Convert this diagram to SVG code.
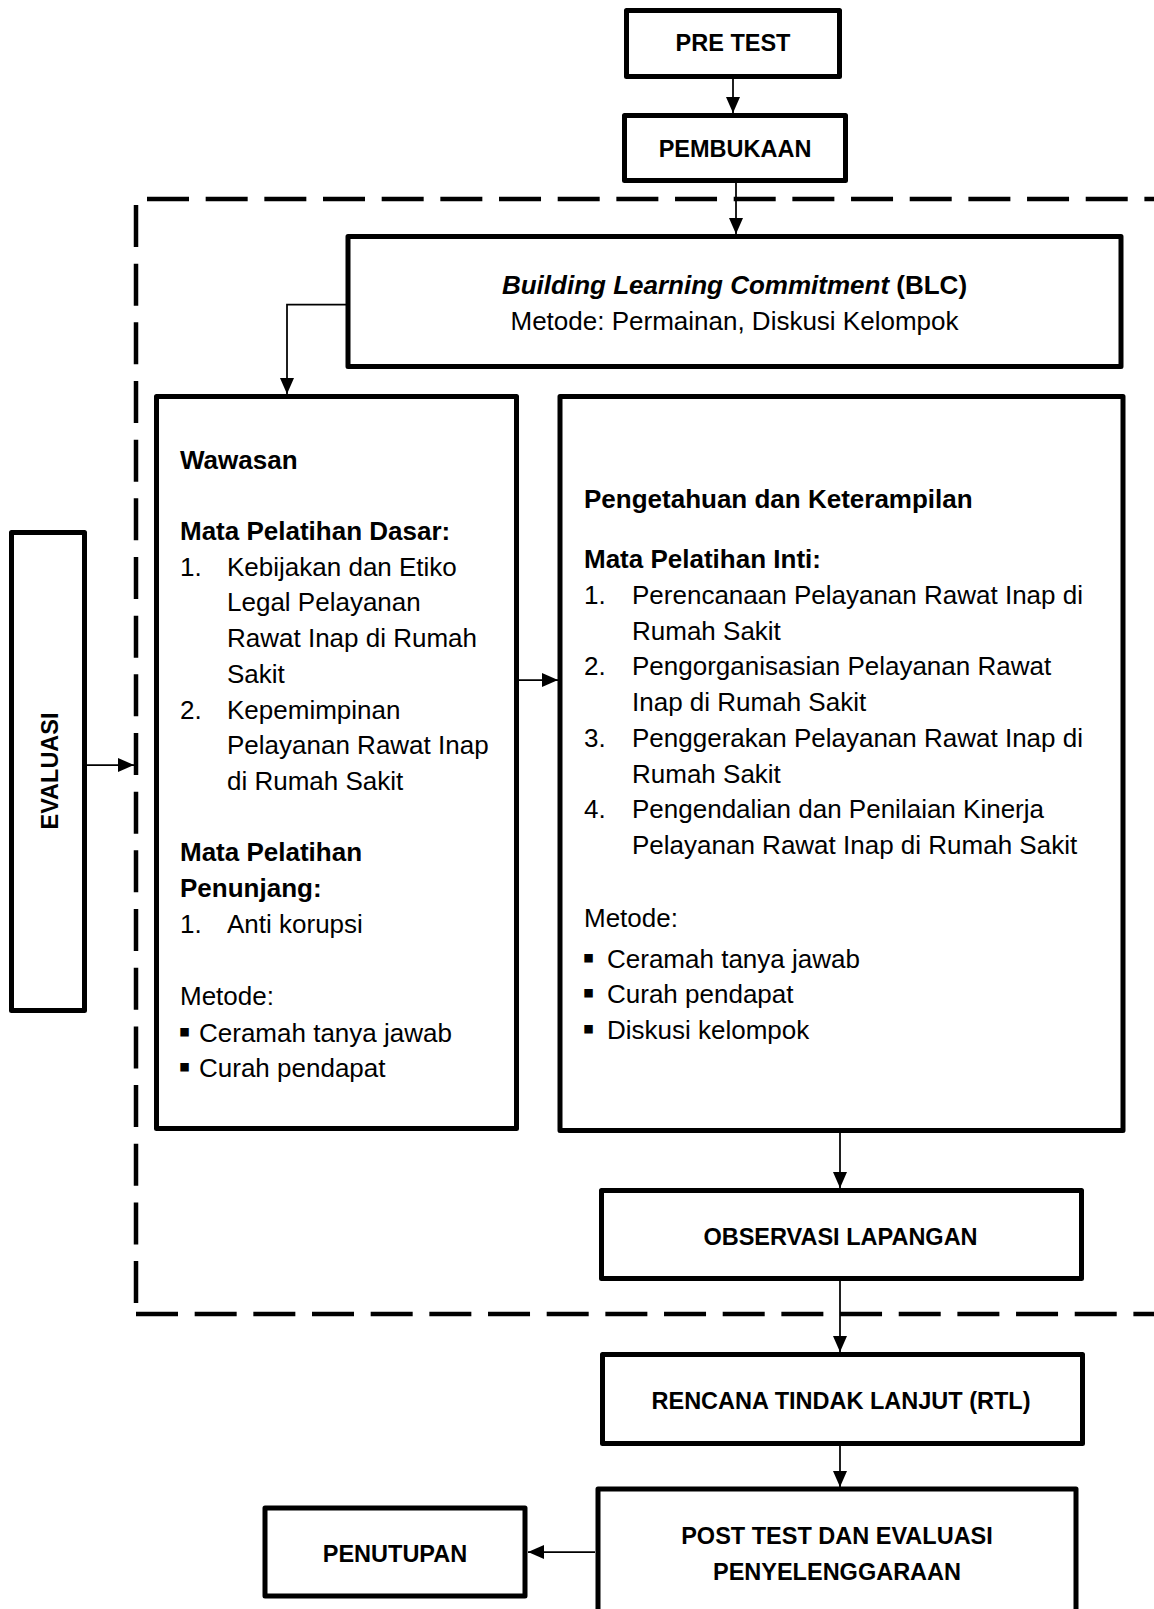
<svg xmlns="http://www.w3.org/2000/svg" width="1154" height="1609" viewBox="0 0 1154 1609">
<style>
.box{fill:#fff;stroke:#000;stroke-width:5;stroke-linejoin:round}
.conn{fill:none;stroke:#000;stroke-width:1.75}
.dash{fill:none;stroke:#000;stroke-width:4.5;stroke-dasharray:42 16.67}
.h{font-family:"Liberation Sans",Arial,sans-serif;font-weight:bold;font-size:23.5px;text-anchor:middle;fill:#000}
.t{font-family:"Liberation Sans",Arial,sans-serif;font-size:26px;fill:#000}
.bl{font-family:"Liberation Sans",Arial,sans-serif;font-size:34px;fill:#000}
.b{font-weight:bold}
.i{font-style:italic}
</style>
<defs>
<marker id="ah" markerUnits="userSpaceOnUse" markerWidth="16" markerHeight="14" refX="16" refY="7" orient="auto">
<path d="M0,0 L16,7 L0,14 z" fill="#000"/>
</marker>
</defs>
<rect width="1154" height="1609" fill="#fff"/>
<g id="frame">
<line class="dash" x1="147" y1="199" x2="1160" y2="199"/>
<line class="dash" x1="136" y1="205" x2="136" y2="1303"/>
<line class="dash" x1="136" y1="1314" x2="1160" y2="1314"/>
</g>
<g id="pretest"><rect class="box" x="626.5" y="10.5" width="213" height="66"/><text class="h" x="733" y="51">PRE TEST</text></g>
<g id="pembukaan"><rect class="box" x="624.5" y="115.5" width="221" height="65"/><text class="h" x="735" y="156.5">PEMBUKAAN</text></g>
<g id="blc"><rect class="box" x="348" y="236.5" width="773" height="130"/>
<text class="t" x="734.5" y="293.5" text-anchor="middle"><tspan class="b i">Building Learning Commitment</tspan><tspan class="b"> (BLC)</tspan></text>
<text class="t" x="734.5" y="330" text-anchor="middle">Metode: Permainan, Diskusi Kelompok</text></g>
<g id="wawasan"><rect class="box" x="156.5" y="396.5" width="360" height="732"/>
<text class="t b" x="180" y="468.6">Wawasan</text>
<text class="t b" x="180" y="540">Mata Pelatihan Dasar:</text>
<text class="t" x="180" y="575.7">1.</text><text class="t" x="227" y="575.7">Kebijakan dan Etiko</text>
<text class="t" x="227" y="611.4">Legal Pelayanan</text>
<text class="t" x="227" y="647.1">Rawat Inap di Rumah</text>
<text class="t" x="227" y="682.8">Sakit</text>
<text class="t" x="180" y="718.5">2.</text><text class="t" x="227" y="718.5">Kepemimpinan</text>
<text class="t" x="227" y="754.2">Pelayanan Rawat Inap</text>
<text class="t" x="227" y="789.9">di Rumah Sakit</text>
<text class="t b" x="180" y="861.3">Mata Pelatihan</text>
<text class="t b" x="180" y="897">Penunjang:</text>
<text class="t" x="180" y="932.7">1.</text><text class="t" x="227" y="932.7">Anti korupsi</text>
<text class="t" x="180" y="1005">Metode:</text>
<text class="bl" x="178.5" y="1043">▪</text><text class="t" x="199" y="1041.5">Ceramah tanya jawab</text>
<text class="bl" x="178.5" y="1078">▪</text><text class="t" x="199" y="1076.5">Curah pendapat</text>
</g>
<g id="pengetahuan"><rect class="box" x="560" y="396.5" width="563" height="734"/>
<text class="t b" x="584" y="508">Pengetahuan dan Keterampilan</text>
<text class="t b" x="584" y="568">Mata Pelatihan Inti:</text>
<text class="t" x="584" y="604">1.</text><text class="t" x="632" y="604">Perencanaan Pelayanan Rawat Inap di</text>
<text class="t" x="632" y="639.7">Rumah Sakit</text>
<text class="t" x="584" y="675.4">2.</text><text class="t" x="632" y="675.4">Pengorganisasian Pelayanan Rawat</text>
<text class="t" x="632" y="711.1">Inap di Rumah Sakit</text>
<text class="t" x="584" y="746.8">3.</text><text class="t" x="632" y="746.8">Penggerakan Pelayanan Rawat Inap di</text>
<text class="t" x="632" y="782.5">Rumah Sakit</text>
<text class="t" x="584" y="818.2">4.</text><text class="t" x="632" y="818.2">Pengendalian dan Penilaian Kinerja</text>
<text class="t" x="632" y="853.9">Pelayanan Rawat Inap di Rumah Sakit</text>
<text class="t" x="584" y="926.8">Metode:</text>
<text class="bl" x="582.5" y="968.5">▪</text><text class="t" x="607" y="967.5">Ceramah tanya jawab</text>
<text class="bl" x="582.5" y="1004">▪</text><text class="t" x="607" y="1003">Curah pendapat</text>
<text class="bl" x="582.5" y="1039.5">▪</text><text class="t" x="607" y="1038.5">Diskusi kelompok</text>
</g>
<g id="evaluasi"><rect class="box" x="11.5" y="532.5" width="73" height="478"/>
<text class="h" transform="translate(57.5,771) rotate(-90)" x="0" y="0">EVALUASI</text></g>
<g id="observasi"><rect class="box" x="601.5" y="1190.5" width="480" height="88"/><text class="h" x="840.5" y="1245">OBSERVASI LAPANGAN</text></g>
<g id="rtl"><rect class="box" x="602.5" y="1354.5" width="480" height="89"/><text class="h" x="841" y="1409">RENCANA TINDAK LANJUT (RTL)</text></g>
<g id="posttest"><rect class="box" x="598" y="1489" width="478" height="160"/>
<text class="h" x="837" y="1543.5">POST TEST DAN EVALUASI</text>
<text class="h" x="837" y="1579.5">PENYELENGGARAAN</text></g>
<g id="penutupan"><rect class="box" x="265" y="1508" width="260" height="88"/><text class="h" x="395" y="1561.5">PENUTUPAN</text></g>
<g id="connectors">
<line class="conn" x1="733" y1="79" x2="733" y2="113" marker-end="url(#ah)"/>
<line class="conn" x1="736" y1="183" x2="736" y2="234" marker-end="url(#ah)"/>
<path class="conn" d="M346,304.5 H287 V394" marker-end="url(#ah)"/>
<line class="conn" x1="519" y1="680" x2="558" y2="680" marker-end="url(#ah)"/>
<line class="conn" x1="87" y1="765" x2="134" y2="765" marker-end="url(#ah)"/>
<line class="conn" x1="840" y1="1133" x2="840" y2="1188" marker-end="url(#ah)"/>
<line class="conn" x1="840" y1="1281" x2="840" y2="1352" marker-end="url(#ah)"/>
<line class="conn" x1="840" y1="1446" x2="840" y2="1487" marker-end="url(#ah)"/>
<line class="conn" x1="595" y1="1552" x2="528" y2="1552" marker-end="url(#ah)"/>
</g>
</svg>
